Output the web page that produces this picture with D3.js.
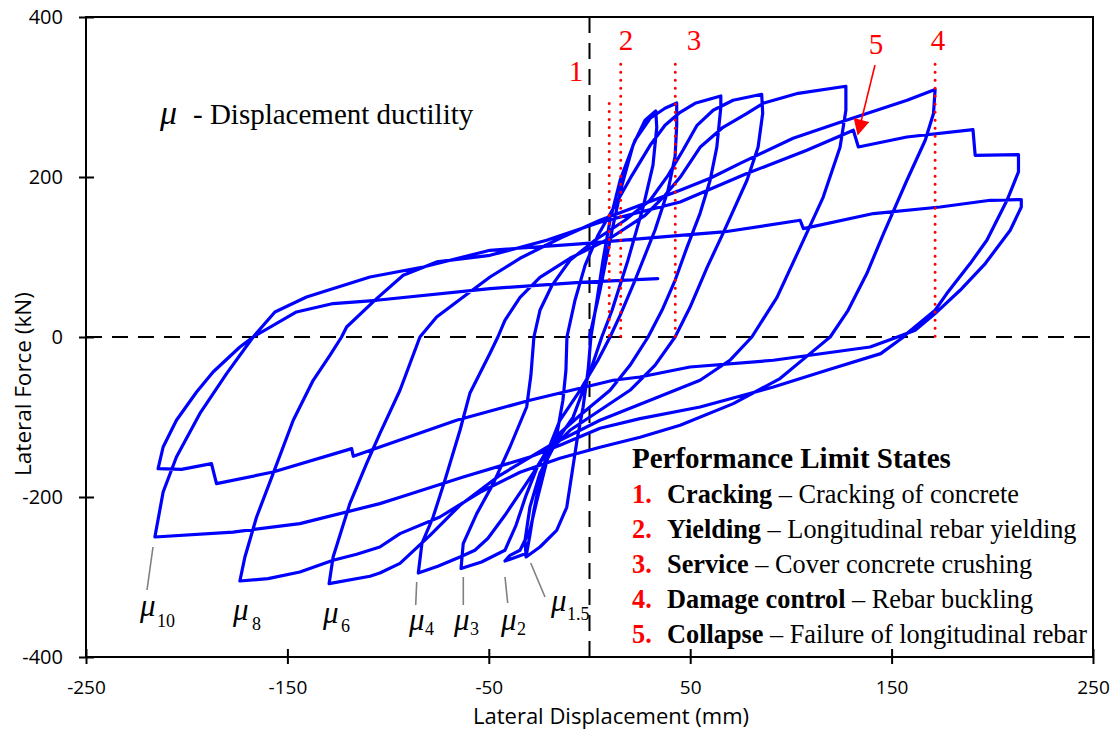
<!DOCTYPE html>
<html>
<head>
<meta charset="utf-8">
<script src="https://cdn.jsdelivr.net/npm/d3@7"></script>
<style>
  body { margin: 0; background: #fff; }
  svg { display: block; }
</style>
</head>
<body>
<svg id="chart" width="1117" height="730"></svg>
<script>
// ---- Tick values ----
const xTicks = [-250, -150, -50, 50, 150, 250];
const yTicks = [-400, -200, 0, 200, 400];

// ---- Hysteresis record: lateral displacement (mm), lateral force (kN) ----
// Each array continues where the previous one stops.
const firstPushMu15 = [[0,0],[5.2,58.4],[11.2,133.4],[16.1,189.6],[21.6,239.6],[27.6,270.9],[32.9,282.5],
  [33.4,262.1],[31.5,214.6],[26.6,162.1],[19.1,96],[11.2,33.4],[6.1,0],[0.2,-44.1],[-8.2,-100.4],
  [-16.1,-129.1],[-24.6,-170.4],[-29.6,-212.9],[-32,-254.1],[-31.5,-275]];
const cycleMu2 = [[-24.6,-262.5],[-16.3,-241.6],[-11.3,-212.9],[-8.7,-170.4],[-6.2,-129.1],[-3.2,-87.9],
  [-0.7,-41.6],[0.7,0],[3.7,45.9],[6.7,95.9],[10.2,145.9],[15.2,195.9],[22.6,245.9],[30.1,273.4],
  [37.5,285.9],[43.3,292.5],
  [43.3,264.6],[42.5,225.9],[39,183.4],[32.5,133.4],[22.6,70.9],[15.2,27.1],[10.2,0],[4.2,-29.1],
  [-4.7,-66.6],[-14.7,-104.1],[-20.6,-141.6],[-24.6,-179.1],[-27.6,-216.6],[-29.6,-247.9],
  [-31.2,-270.4],[-38,-276.6],[-42,-280]];
const cycleMu3 = [[-39.5,-272.9],[-34.5,-266.6],[-29.6,-241.6],[-26.1,-204.1],[-21.1,-154.1],[-16.1,-120.4],
  [-13.2,-79.1],[-11.7,-41.6],[-11.2,0],[-7.2,45.9],[-2.2,89.6],[4.2,127.1],[12.7,164.6],[21.1,202.1],
  [30.1,239.6],[37.5,264.6],[45,280.9],[52.4,292.1],[65.2,301.3],
  [65.2,287.1],[63.2,237.1],[59.9,195.9],[54.9,154.6],[48.4,112.1],[42.5,70.9],[36,33.4],[29.1,0],
  [20.1,-35.4],[10.2,-66.6],[-4.7,-97.9],[-17.1,-125.4],[-25.6,-160.4],[-31.5,-197.9],[-36.5,-235.4],
  [-42,-266.6],[-53.6,-281.3],[-63.8,-289.5]];
const cycleMu4 = [[-62.7,-258.3],[-56,-220.8],[-47.8,-183.3],[-39.5,-137.5],[-31.2,-87.5],[-29.1,-47.9],
  [-27.6,0],[-24.6,33.4],[-18.6,64.6],[-9.7,95.9],[2.7,120.9],[17.6,145.9],[30.1,170.9],[39,202.1],
  [46.4,233.4],[53.4,264.6],[61.4,283.4],[71.3,295.9],[85.5,303.4],
  [86,279.6],[83.7,237.1],[78.2,195.9],[66.3,129.6],[58.4,87.1],[49.9,37.1],[42.5,0],[32.5,-35.4],
  [20.1,-66.6],[5.2,-91.6],[-9.7,-116.6],[-22.1,-147.9],[-32,-185.4],[-42,-222.9],[-50.4,-251.6],
  [-56.9,-266.6],[-64.3,-275],[-75.3,-286.6],[-85,-295]];
const cycleMu6 = [[-83.2,-257.9],[-77.7,-225.4],[-71.8,-179.1],[-64.3,-116.6],[-59.4,-70.4],[-49.4,-20.4],
  [-45.5,0],[-42,20.9],[-34.5,49.6],[-24.6,74.6],[-9.7,98.4],[10.2,123.4],[27.6,152.1],[37.5,177.1],
  [45,199.6],[54.9,237.1],[66.3,262.1],[78.2,279.6],[86.2,292.1],[103.6,304.6],[127.3,313.4],
  [127.3,283.4],[124.4,237.1],[116,174.6],[104.6,112.1],[93.1,49.6],[80.6,0],[69.7,-29.1],[54.9,-54.1],
  [30.1,-79.1],[5.2,-104.1],[-19.6,-135.4],[-44.5,-172.9],[-64.3,-210.4],[-79.2,-247.9],[-94.1,-282.9],
  [-104.1,-295],[-109,-299.1],[-129.3,-308.3]];
const cycleMu8 = [[-127.3,-275],[-119,-208.3],[-110.7,-158.3],[-104.1,-120.8],[-94.1,-66.6],[-84.2,0],
  [-75.9,25],[-62.7,50],[-49.4,75],[-34.5,98.4],[-14.7,123.4],[5.2,145.9],[25.1,164.6],[45,183.4],
  [59.9,198.4],[74.8,217.1],[101.1,248.4],[124.5,268.4],[157.7,295.9],[171.6,309.3],
  [170.8,279.3],[166.7,245.9],[157.6,195.9],[146,129.3],[137.7,79.3],[128.4,33.4],[119.5,0],
  [109.5,-20.8],[94.6,-52],[71.4,-83.3],[45,-110.4],[25.1,-125.4],[5.2,-137.9],[-14.7,-151.6],
  [-34.5,-169.1],[-54.4,-194.1],[-74.3,-225],[-94.1,-245.8],[-104.1,-262.5],[-115.6,-271.6],
  [-127.3,-279.1],[-143.8,-293.8],[-159.6,-302],[-173.6,-305]];
const cycleMu10a = [[-171.1,-275],[-165.3,-225],[-157.1,-170.8],[-147.1,-104.1],[-137.2,-54.1],
  [-128.9,-22.9],[-123.1,0],[-120.6,12.5],[-105.7,48],[-92.5,77.1],[-75.9,93.8],[-49.4,102.1],
  [-21.3,120.9],[5.2,143.4],[45,168.8],[78.1,204.3],[107.9,233.4],[131,258.4],[133.5,237.5],
  [157.6,250],[190.4,259.3],[191.5,227.1],[213,228],[213,206.3],
  [207.3,170.9],[197.3,120.9],[189,91.8],[177.4,54.3],[171.6,33.4],[157.6,4.3],[155.9,0],
  [144.6,-20.8],[117.8,-41.6],[91.3,-62.5],[54.9,-87.5],[25.1,-102],[5.2,-114.1],[-14.7,-135.4],
  [-29.6,-150],[-62.7,-175],[-94.1,-200.4],[-104.1,-208.3],[-143.8,-233.3],[-177,-243.8],[-215.8,-250]];
const cycleMu10b = [[-211.7,-193.8],[-205.1,-150],[-193.5,-95.8],[-180.2,-45.8],[-167,0],
  [-156.2,31.3],[-140.5,50],[-109,75],[-82.6,87.5],[-49.4,108.4],[-4.7,116.5],[45,127.1],[66.5,131.3],
  [104.6,145.9],[106.2,135.5],[141,154.3],[174.1,162.5],[199,170.9],[214.4,171.8],[214.4,162.5],
  [208.9,133.4],[196.5,91.8],[184,58.4],[171.6,29.3],[161.7,8.4],[150.9,-2],[139.3,-12.5],
  [91.3,-29.1],[49.9,-37.5],[25.1,-50],[11.8,-54.1],[-29.6,-79.1],[-66,-104.1],[-104.1,-137.5],
  [-117.3,-149.1],[-118.1,-139.5],[-157.1,-168.8],[-185.2,-183.3],[-187.7,-158.3],[-202.6,-165.4],
  [-214.2,-164.5]];
const finalReturn = [[-211.7,-137.5],[-205.1,-104.1],[-195.1,-68.8],[-186.9,-43.8],[-173.6,-12.5],
  [-167,0],[-145.5,31.3],[-127.3,41.8],[-105.7,45.9],[-49.4,60.5],[-4.7,68.4],[33.9,73]];

const record = [firstPushMu15, cycleMu2, cycleMu3, cycleMu4, cycleMu6, cycleMu8,
  cycleMu10a, cycleMu10b, finalReturn].flat();

// ---- Performance limit states (displacement where each was reached) ----
const limitIds = ["1", "2", "3", "4"];
const limitDisp = [9.8, 15.5, 42.6, 171.6];
const limitTopForce = [292, 341, 341, 341];

// ---- Legend ----
const legendNums = ["1.", "2.", "3.", "4.", "5."];
const legendNames = ["Cracking", "Yielding", "Service", "Damage control", "Collapse"];
const legendDescs = ["Cracking of concrete", "Longitudinal rebar yielding", "Cover concrete crushing",
  "Rebar buckling", "Failure of longitudinal rebar"];

// ---- Ductility labels at the negative peaks ----
const ductSubs = ["10", "8", "6", "4", "3", "2", "1.5"];

// ---------------------------------------------------------------
const svg = d3.select("#chart");
const x = d3.scaleLinear().domain([-250, 250]).range([86, 1093]);
const y = d3.scaleLinear().domain([-400, 400]).range([657, 17]);
const serif = "'Liberation Serif', 'Times New Roman', serif";
const sans = "'Open Sans', 'Liberation Sans', sans-serif";

// zero reference lines
svg.append("line").attr("x1", x(0)).attr("x2", x(0)).attr("y1", y(400)).attr("y2", y(-400))
  .attr("stroke", "#000").attr("stroke-width", 2).attr("stroke-dasharray", "16,10");
svg.append("line").attr("x1", x(-250)).attr("x2", x(250)).attr("y1", y(0)).attr("y2", y(0))
  .attr("stroke", "#000").attr("stroke-width", 2).attr("stroke-dasharray", "16,10");

// hysteresis curve
const line = d3.line().x(d => x(d[0])).y(d => y(d[1]));
svg.append("path").datum(record).attr("d", line)
  .attr("fill", "none").attr("stroke", "#0000ff").attr("stroke-width", 3.2)
  .attr("stroke-linejoin", "round").attr("stroke-linecap", "round");

// dotted limit state markers
limitDisp.forEach((d, i) => {
  svg.append("line").attr("x1", x(d)).attr("x2", x(d)).attr("y1", y(limitTopForce[i])).attr("y2", y(0))
    .attr("stroke", "#ff0000").attr("stroke-width", 3).attr("stroke-linecap", "round")
    .attr("stroke-dasharray", "0.1,7.9");
});
const idPos = [[576, 81], [626, 50], [694, 50], [938, 50]];
limitIds.forEach((t, i) => {
  svg.append("text").attr("x", idPos[i][0]).attr("y", idPos[i][1]).attr("text-anchor", "middle")
    .attr("font-family", serif).attr("font-size", 29).attr("fill", "#ff0000").text(t);
});
// collapse marker with arrow
svg.append("defs").append("marker").attr("id", "arrow").attr("viewBox", "0 0 10 10")
  .attr("refX", 9).attr("refY", 5).attr("markerWidth", 18).attr("markerHeight", 16)
  .attr("markerUnits", "userSpaceOnUse").attr("orient", "auto")
  .append("path").attr("d", "M0,0L10,5L0,10z").attr("fill", "#ff0000");
svg.append("line").attr("x1", 875).attr("y1", 65).attr("x2", 858).attr("y2", 134)
  .attr("stroke", "#ff0000").attr("stroke-width", 1.6).attr("marker-end", "url(#arrow)");
svg.append("text").attr("x", 876).attr("y", 54).attr("text-anchor", "middle")
  .attr("font-family", serif).attr("font-size", 29).attr("fill", "#ff0000").text("5");

// frame
svg.append("rect").attr("x", x(-250)).attr("y", y(400)).attr("width", x(250) - x(-250))
  .attr("height", y(-400) - y(400)).attr("fill", "none").attr("stroke", "#000").attr("stroke-width", 2);

// axes
const fmt = d => String(d);
const xAxis = svg.append("g").attr("transform", `translate(0,${y(-400)})`)
  .call(d3.axisBottom(x).tickValues(xTicks).tickSize(7).tickPadding(16.5).tickFormat(fmt));
xAxis.select(".domain").remove();
xAxis.selectAll(".tick line").attr("y1", -8).attr("y2", 7).attr("stroke-width", 2);
xAxis.selectAll("text").attr("font-family", sans).attr("font-size", 19).attr("fill", "#000");

const yAxis = svg.append("g").attr("transform", `translate(${x(-250)},0)`)
  .call(d3.axisLeft(y).tickValues(yTicks).tickSize(7).tickPadding(16).tickFormat(fmt));
yAxis.select(".domain").remove();
yAxis.selectAll(".tick line").attr("x1", -7).attr("x2", 8).attr("stroke-width", 2);
yAxis.selectAll("text").attr("font-family", sans).attr("font-size", 20).attr("fill", "#000");

// axis titles
svg.append("text").attr("x", 473).attr("y", 724).attr("font-family", sans).attr("font-size", 22)
  .text("Lateral Displacement (mm)");
svg.append("text").attr("transform", "translate(31,384) rotate(-90)").attr("text-anchor", "middle")
  .attr("font-family", sans).attr("font-size", 22.5).text("Lateral Force (kN)");

// ductility note
svg.append("text").attr("x", 160).attr("y", 124).attr("font-family", serif)
  .attr("font-style", "italic").attr("font-size", 34).text("μ");
svg.append("text").attr("x", 193).attr("y", 124).attr("font-family", serif)
  .attr("font-size", 29).text("- Displacement ductility");

// ductility labels and leader lines
const ductPos = [[140, 616, 157, 627], [233, 620, 252, 630], [323, 623, 341, 632], [409, 630, 425, 635],
  [454, 630, 470, 635], [501, 630, 517, 635], [551, 611, 567, 620]];
ductSubs.forEach((s, i) => {
  const p = ductPos[i];
  svg.append("text").attr("x", p[0]).attr("y", p[1]).attr("font-family", serif)
    .attr("font-style", "italic").attr("font-size", 31).text("μ");
  svg.append("text").attr("x", p[2]).attr("y", p[3]).attr("font-family", serif)
    .attr("font-size", 18).text(s);
});
const leaders = [[153, 547, 147, 590], [416.7, 582, 415.7, 605], [463.3, 577, 463.3, 605],
  [505, 577, 507.7, 603], [530.7, 563, 545, 597]];
leaders.forEach(l => {
  svg.append("line").attr("x1", l[0]).attr("y1", l[1]).attr("x2", l[2]).attr("y2", l[3])
    .attr("stroke", "#808080").attr("stroke-width", 1.6);
});

// legend
svg.append("text").attr("x", 632).attr("y", 468).attr("font-family", serif).attr("font-weight", "bold")
  .attr("font-size", 29).text("Performance Limit States");
legendNums.forEach((n, i) => {
  const yy = 503 + i * 35;
  svg.append("text").attr("x", 632).attr("y", yy).attr("font-family", serif).attr("font-weight", "bold")
    .attr("font-size", 26.3).attr("fill", "#ff0000").text(n);
  const t = svg.append("text").attr("x", 667).attr("y", yy).attr("font-family", serif).attr("font-size", 26.3);
  t.append("tspan").attr("font-weight", "bold").text(legendNames[i]);
  t.append("tspan").text(" \u2013 " + legendDescs[i]);
});
</script>
</body>
</html>
